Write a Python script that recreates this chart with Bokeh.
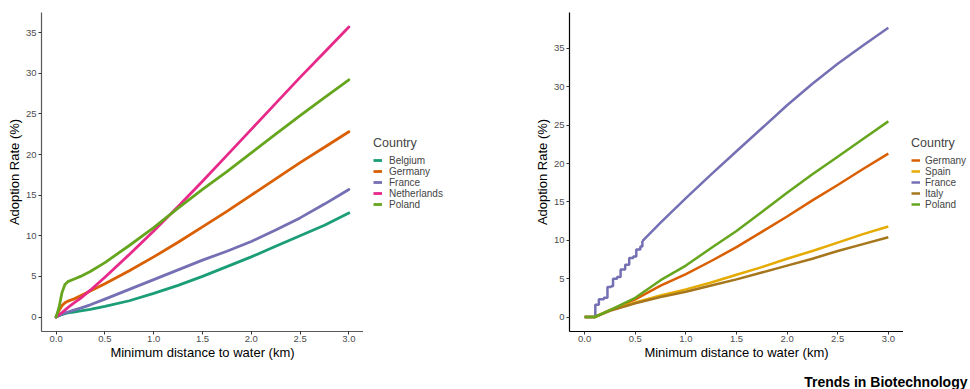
from bokeh.plotting import figure
from bokeh.layouts import row, column
from bokeh.models import Legend, LegendItem, FixedTicker, Range1d, Label, PrintfTickFormatter
from bokeh.embed import file_html
from bokeh.resources import INLINE

FONT = "Liberation Sans"
NAN = float("nan")

# ---------------- data: left panel ----------------
x_left = [0, 0.03, 0.06, 0.09, 0.12, 0.18, 0.25, 0.35, 0.5, 0.75, 1.0, 1.25, 1.5, 1.75,
          2.0, 2.25, 2.5, 2.75, 3.0]
belgium_l = [0, 0.15, 0.3, 0.4, 0.5, 0.6, 0.75, 0.95, 1.3, 2.0, 2.9, 3.9, 5.0, 6.2,
             7.4, 8.7, 10.0, 11.3, 12.8]
germany_l = [0, 0.8, 1.4, 1.75, 1.95, 2.2, 2.6, 3.2, 4.1, 5.7, 7.4, 9.2, 11.1, 13.0,
             15.0, 17.0, 19.0, 20.9, 22.8]
france_l = [0, 0.2, 0.35, 0.5, 0.6, 0.85, 1.1, 1.5, 2.2, 3.4, 4.6, 5.8, 7.0, 8.1,
            9.3, 10.7, 12.2, 13.9, 15.7]
netherlands_l = [0, 0.3, 0.55, 0.85, 1.15, 1.7, 2.3, 3.3, 4.9, 7.7, 10.6, 13.6, 16.7, 19.9,
                 23.1, 26.3, 29.5, 32.6, 35.7]
poland_l = [0, 1.2, 3.0, 4.0, 4.35, 4.65, 5.0, 5.6, 6.7, 8.8, 11.0, 13.4, 15.7, 17.9,
            20.2, 22.5, 24.8, 27.0, 29.2]
left_countries = ["Belgium", "Germany", "France", "Netherlands", "Poland"]

# ---------------- data: right panel ----------------
x_right = [0, 0.1, 0.25, 0.5, 0.75, 1.0, 1.25, 1.5, 1.75, 2.0, 2.25, 2.5, 2.75, 3.0]
germany_r = [0, 0, 0.9, 2.3, 4.1, 5.6, 7.3, 9.1, 11.1, 13.1, 15.2, 17.2, 19.3, 21.3]
spain_r = [0, 0, 0.9, 1.9, 2.8, 3.6, 4.5, 5.5, 6.5, 7.6, 8.6, 9.7, 10.8, 11.8]
italy_r = [0, 0, 0.8, 1.8, 2.6, 3.3, 4.1, 4.9, 5.8, 6.7, 7.6, 8.6, 9.5, 10.4]
poland_r = [0, 0, 0.9, 2.5, 4.8, 6.7, 9.0, 11.2, 13.7, 16.2, 18.6, 20.9, 23.2, 25.5]
# France: staircase at short distances, then a steady rise
france_step_x = [0, 0.105, 0.14, 0.19, 0.225, 0.26, 0.28, 0.32, 0.355, 0.40, 0.44, 0.48,
                 0.51, 0.55, 0.57]
france_step_y = [0, 1.6, 2.3, 2.5, 3.9, 4.0, 5.0, 5.2, 6.2, 6.8, 7.7, 7.9, 8.8, 9.2, 9.9]
france_x = [0.57, 0.75, 1.0, 1.25, 1.5, 1.75, 2.0, 2.25, 2.5, 2.75, 3.0]
france_y = [9.9, 12.3, 15.5, 18.6, 21.6, 24.6, 27.6, 30.4, 33.0, 35.4, 37.7]
right_countries = ["Germany", "Spain", "France", "Italy", "Poland"]

x_ticks = [0, 0.5, 1.0, 1.5, 2.0, 2.5, 3.0]
y_ticks = [0, 5, 10, 15, 20, 25, 30, 35]
footer_text = "Trends in Biotechnology"

COL = {"Belgium": "#1B9E77", "Germany": "#D95F02", "France": "#7570B3",
       "Netherlands": "#E7298A", "Poland": "#66A61E", "Spain": "#E6AB02", "Italy": "#A6761D"}


def style(p, axis_color):
    p.xgrid.visible = False
    p.ygrid.visible = False
    p.outline_line_color = None
    p.background_fill_color = "white"
    p.border_fill_color = "white"
    p.xaxis.axis_label = "Minimum distance to water (km)"
    p.yaxis.axis_label = "Adoption Rate (%)"
    p.xaxis.ticker = FixedTicker(ticks=x_ticks)
    p.yaxis.ticker = FixedTicker(ticks=y_ticks)
    p.xaxis.formatter = PrintfTickFormatter(format="%.1f")
    for ax in (p.xaxis[0], p.yaxis[0]):
        ax.axis_line_color = axis_color
        ax.axis_line_width = 1.2
        ax.major_tick_line_color = "#333333"
        ax.major_tick_in = 0
        ax.major_tick_out = 3
        ax.minor_tick_line_color = None
        ax.major_label_text_font = FONT
        ax.major_label_text_font_size = "9.5px"
        ax.major_label_text_color = "#4D4D4D"
        ax.axis_label_text_font = FONT
        ax.axis_label_text_font_size = "13px"
        ax.axis_label_text_font_style = "normal"
        ax.axis_label_text_color = "black"
    p.xaxis.major_label_standoff = 1
    p.xaxis.axis_label_standoff = 0
    p.yaxis.major_label_standoff = 2
    p.yaxis.axis_label_standoff = 1


def blank(width, height):
    f = figure(width=width, height=height, min_border=0, x_axis_location=None,
               y_axis_location=None, x_range=Range1d(0, width), y_range=Range1d(0, height),
               output_backend="svg", toolbar_location=None)
    f.outline_line_color = None
    f.xgrid.visible = False
    f.ygrid.visible = False
    return f


def legend_panel(width, names, lw, loc, standoff):
    f = blank(width, 373)
    items = []
    for n in names:
        # invisible stand-in renderer (one NaN point) that only carries the legend style
        r = f.line(x=[NAN], y=[NAN], line_color=COL[n], line_width=lw)
        items.append(LegendItem(label=n, renderers=[r]))
    f.add_layout(Legend(items=items, location=loc, title="Country",
                        title_text_font=FONT, title_text_font_size="12.5px",
                        title_text_font_style="normal", title_standoff=5,
                        label_text_font=FONT, label_text_font_size="10px",
                        glyph_width=9, glyph_height=10, label_height=10,
                        label_standoff=standoff, spacing=0, padding=0, margin=0,
                        border_line_color=None, background_fill_alpha=0))
    return f


# ---------------- left figure ----------------
left = figure(width=363, height=373, min_border_left=41, min_border_right=0,
              min_border_top=12, min_border_bottom=42,
              x_range=Range1d(-0.15, 3.15), y_range=Range1d(-1.785, 37.485),
              output_backend="svg", toolbar_location=None)
style(left, "#595959")
for name, ys in zip(left_countries, [belgium_l, germany_l, france_l, netherlands_l, poland_l]):
    left.line(x_left, ys, line_color=COL[name], line_width=2.8, line_join="round",
              line_cap="round")
left_leg = legend_panel(167, left_countries, 2.8, (10, 121.5), 7)

# ---------------- right figure ----------------
right = figure(width=373, height=373, min_border_left=39, min_border_right=0,
               min_border_top=12, min_border_bottom=42,
               x_range=Range1d(-0.15, 3.15), y_range=Range1d(-1.89, 39.69),
               output_backend="svg", toolbar_location=None)
style(right, "black")
for name in right_countries:
    if name == "France":
        right.step(france_step_x, france_step_y, mode="after", line_color=COL[name],
                   line_width=2.5)
        right.line(france_x, france_y, line_color=COL[name], line_width=2.5,
                   line_join="round")
    else:
        ys = {"Germany": germany_r, "Spain": spain_r, "Italy": italy_r, "Poland": poland_r}[name]
        right.line(x_right, ys, line_color=COL[name], line_width=2.5, line_join="round")
right_leg = legend_panel(67, right_countries, 2.5, (8, 121.5), 5)

# ---------------- footer strip ----------------
footer = blank(970, 16)
footer.add_layout(Label(x=967, y=8, text=footer_text, text_align="right",
                        text_baseline="middle", text_font=FONT, text_font_style="bold",
                        text_font_size="14px", text_color="black"))

layout = column(row(left, left_leg, right, right_leg, spacing=0), footer, spacing=0)
open("out.html", "w").write(file_html(layout, INLINE))
